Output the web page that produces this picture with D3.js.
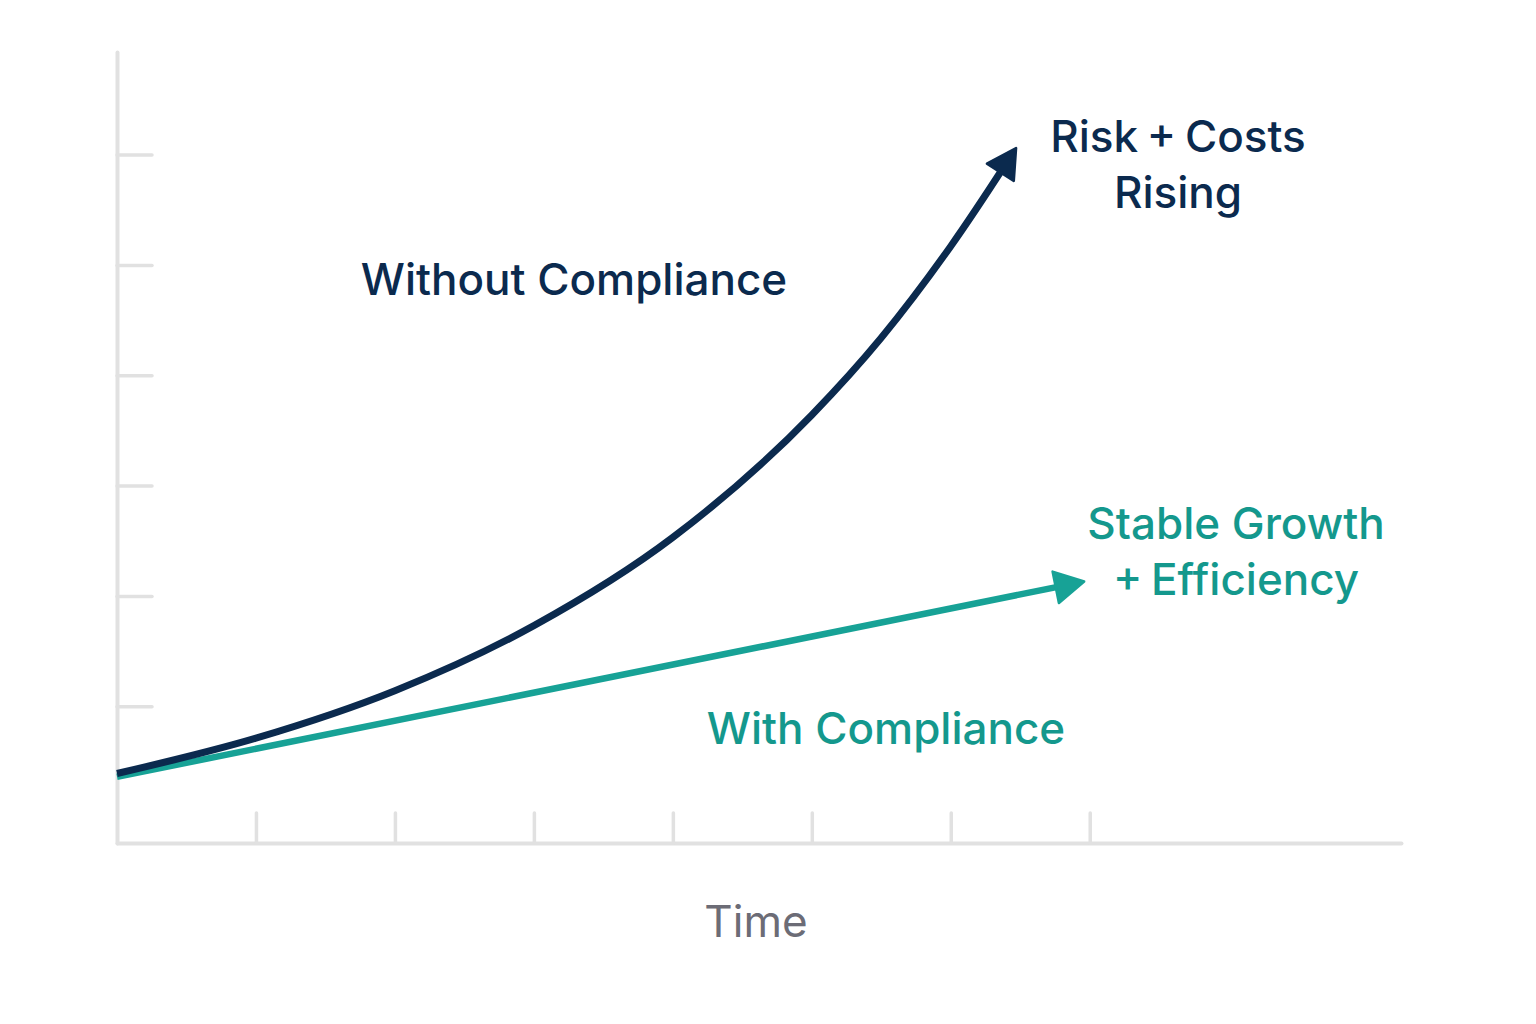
<!DOCTYPE html>
<html>
<head>
<meta charset="utf-8">
<script src="https://cdn.jsdelivr.net/npm/d3@7/dist/d3.min.js"></script>
<style>
  html, body { margin: 0; padding: 0; background: #ffffff; }
  svg { display: block; }
  text { font-family: Inter, "Noto Sans", sans-serif; }
</style>
</head>
<body>
<svg id="chart" width="1536" height="1024"></svg>
<script>
// ---- data ----
const xTicks = [1, 2, 3, 4, 5, 6, 7];
const yTicks = [1, 2, 3, 4, 5, 6];
const withoutX = [0, 1, 2, 3, 4, 5, 5.5, 6, 6.47];
const withoutY = [0.39, 0.71, 1.14, 1.73, 2.53, 3.64, 4.34, 5.17, 6.06];
const withX = [0, 6.96];
const withY = [0.36, 2.13];
const xAxisLabel = "Time";
const labelWithout = ["Without Compliance"];
const labelRisk = ["Risk + Costs", "Rising"];
const labelStable = ["Stable Growth", "+ Efficiency"];
const labelWith = ["With Compliance"];

// ---- layout ----
const navy = "#0b2a4e";
const teal = "#17a296";
const tealText = "#14988d";
const axisGray = "#e1e1e1";

const svg = d3.select("#chart");
const x = d3.scaleLinear().domain([0, 9.24]).range([117, 1401]);
const y = d3.scaleLinear().domain([-0.24, 6.93]).range([843, 52]);

// axes
const xAxis = d3.axisBottom(x).tickValues(xTicks).tickSize(-30).tickSizeOuter(0).tickFormat("");
const yAxis = d3.axisLeft(y).tickValues(yTicks).tickSize(-35).tickSizeOuter(0).tickFormat("");

const gx = svg.append("g").attr("transform", `translate(0,${y(-0.24)})`).call(xAxis);
const gy = svg.append("g").attr("transform", `translate(${x(0)},0)`).call(yAxis);
[gx, gy].forEach(g => {
  g.selectAll("path.domain").attr("stroke", axisGray).attr("stroke-width", 4).attr("stroke-linecap", "round");
  g.selectAll(".tick line").attr("stroke", axisGray).attr("stroke-width", 3.5).attr("stroke-linecap", "round");
});

// arrow markers
const defs = svg.append("defs");
function marker(id, color) {
  defs.append("marker")
    .attr("id", id)
    .attr("markerUnits", "userSpaceOnUse")
    .attr("viewBox", "-4 -20 38 40")
    .attr("markerWidth", 38).attr("markerHeight", 40)
    .attr("refX", 29).attr("refY", 0)
    .attr("orient", "auto")
    .append("path")
    .attr("d", "M0,-16 L29,0 L0,16 Z")
    .attr("fill", color).attr("stroke", color)
    .attr("stroke-width", 2.5).attr("stroke-linejoin", "round");
}
marker("arrNavy", navy);
marker("arrTeal", teal);

const line = d3.line().x(d => x(d[0])).y(d => y(d[1])).curve(d3.curveMonotoneX);

function drawSeries(xs, ys, color, width, markerId) {
  const pts = xs.map((v, i) => [v, ys[i]]);
  const p = svg.append("path")
    .attr("d", line(pts))
    .attr("fill", "none")
    .attr("stroke", color)
    .attr("stroke-width", width)
    .attr("stroke-linecap", "butt");
  const L = p.node().getTotalLength();
  p.attr("stroke-dasharray", `${L - 22} ${L}`);
  svg.append("path")
    .attr("d", line(pts))
    .attr("fill", "none")
    .attr("stroke", "none")
    .attr("marker-end", `url(#${markerId})`);
}
drawSeries(withX, withY, teal, 6.5, "arrTeal");
drawSeries(withoutX, withoutY, navy, 7, "arrNavy");

// labels
function label(lines, cx, baseline, color, size, weight, gap) {
  const t = svg.append("text")
    .attr("text-anchor", "middle")
    .attr("fill", color)
    .attr("font-size", size)
    .attr("font-weight", weight);
  lines.forEach((s, i) => {
    t.append("tspan").attr("x", cx).attr("y", baseline + i * gap)
      .attr("word-spacing", s.includes("+") ? -3 : 0)
      .text(s);
  });
}
label(labelWithout, 574, 295, navy, 44, 500, 56);
label(labelRisk, 1178, 152, navy, 44, 500, 56);
label(labelStable, 1236, 539, tealText, 44, 500, 56);
label(labelWith, 886, 744, tealText, 44, 500, 56);
label([xAxisLabel], 756, 937, "#6c6c76", 44, 400, 0);
</script>
</body>
</html>
